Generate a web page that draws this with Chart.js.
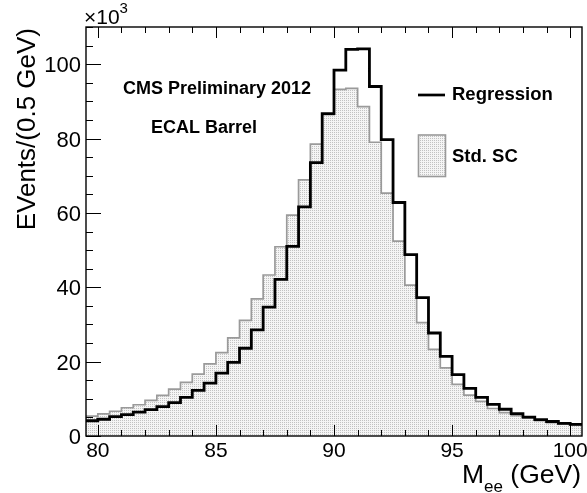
<!DOCTYPE html>
<html>
<head>
<meta charset="utf-8">
<title>Mee - ECAL Barrel</title>
<script src="https://cdn.jsdelivr.net/npm/chart.js@4.4.1/dist/chart.umd.min.js"></script>
<style>
  html, body { margin: 0; padding: 0; background: #fff; }
</style>
</head>
<body>
<canvas id="myChart" width="587" height="493"></canvas>
<script>
// ------------------------------DATA------------------------------
// low edge of each 0.5 GeV bin
var binLow = [79.5, 80, 80.5, 81, 81.5, 82, 82.5, 83, 83.5, 84, 84.5, 85, 85.5, 86,
  86.5, 87, 87.5, 88, 88.5, 89, 89.5, 90, 90.5, 91, 91.5, 92, 92.5, 93, 93.5, 94,
  94.5, 95, 95.5, 96, 96.5, 97, 97.5, 98, 98.5, 99, 99.5, 100];
var binWidth = 0.5;

// events / 0.5 GeV, in units of 10^3
var regression = [4.1, 4.5, 5.2, 5.75, 6.4, 7.1, 7.9, 8.95, 10.4, 12.25, 14.2, 16.9,
  19.8, 23.6, 28.55, 34.65, 42.1, 51.0, 61.6, 73.5, 86.7, 98.4, 104.0, 104.1, 94.0,
  79.7, 62.8, 48.8, 37.2, 27.7, 21.4, 16.5, 12.8, 10.4, 8.5, 7.2, 6.0, 5.1, 4.4, 3.9,
  3.4, 3.1];
var stdSC = [5.35, 5.95, 6.65, 7.6, 8.4, 9.6, 10.9, 12.6, 14.4, 16.65, 19.4, 22.4,
  26.4, 31.1, 36.9, 43.3, 50.9, 59.4, 68.9, 78.5, 86.4, 93.2, 93.5, 88.6, 79.0, 65.3,
  52.4, 40.6, 30.5, 23.3, 18.3, 13.9, 11.0, 9.3, 7.4, 6.3, 5.5, 4.8, 4.1, 3.6, 3.2,
  3.0];

var xTicks = [80, 85, 90, 95, 100];
var yTicks = [0, 20, 40, 60, 80, 100];

// ------------------------------HELPERS------------------------------
function histPoints(values) {
  var pts = [];
  for (var i = 0; i < values.length; i++) {
    pts.push({ x: binLow[i], y: values[i] });
  }
  // close the last bin at its upper edge
  pts.push({ x: binLow[binLow.length - 1] + binWidth, y: values[values.length - 1] });
  return pts;
}

function dotPattern() {
  var c = document.createElement('canvas');
  c.width = 2; c.height = 2;
  var g = c.getContext('2d');
  g.fillStyle = '#f5f5f5';
  g.fillRect(0, 0, 2, 2);
  g.fillStyle = '#c2c2c2';
  g.fillRect(0, 0, 1, 1);
  return g.createPattern(c, 'repeat');
}
var dots = dotPattern();

var FONT = '"Liberation Sans", Arial, Helvetica, sans-serif';

// ------------------------------FRAME + INSIDE TICKS------------------------------
var frameTicks = {
  id: 'frameTicks',
  afterDatasetsDraw: function (chart) {
    var ctx = chart.ctx, a = chart.chartArea;
    var xs = chart.scales.x, ys = chart.scales.y;
    ctx.save();
    ctx.strokeStyle = '#000';
    ctx.lineWidth = 1;
    ctx.beginPath();
    for (var v = 80; v <= 100; v++) {
      var px = Math.round(xs.getPixelForValue(v)) + 0.5;
      var len = xTicks.indexOf(v) >= 0 ? 11 : 6;
      ctx.moveTo(px, a.bottom); ctx.lineTo(px, a.bottom - len);
      ctx.moveTo(px, a.top); ctx.lineTo(px, a.top + len);
    }
    for (var w = 0; w <= 110; w += 5) {
      var py = Math.round(ys.getPixelForValue(w)) + 0.5;
      var l2 = yTicks.indexOf(w) >= 0 ? 15 : 7;
      ctx.moveTo(a.left, py); ctx.lineTo(a.left + l2, py);
    }
    ctx.stroke();
    ctx.lineWidth = 1.4;
    ctx.strokeRect(a.left, a.top, a.right - a.left, a.bottom - a.top);
    ctx.restore();
  }
};

// ------------------------------TEXTS + LEGEND------------------------------
var rootTexts = {
  id: 'rootTexts',
  afterDraw: function (chart) {
    var ctx = chart.ctx;
    ctx.save();
    ctx.fillStyle = '#000';
    ctx.textBaseline = 'alphabetic';

    // x10^3
    ctx.textAlign = 'left';
    ctx.font = '21px ' + FONT;
    ctx.fillText('\u00d710', 84, 24);
    var w10 = ctx.measureText('\u00d710').width;
    ctx.font = '15px ' + FONT;
    ctx.fillText('3', 84 + w10, 13);

    // y title
    ctx.save();
    ctx.translate(35, 28);
    ctx.rotate(-Math.PI / 2);
    ctx.textAlign = 'right';
    ctx.font = '26px ' + FONT;
    ctx.fillText('EVents/(0.5 GeV)', 0, 0);
    ctx.restore();

    // x title, right aligned at frame edge
    var big = '26.5px ' + FONT, small = '17px ' + FONT;
    ctx.font = big;
    var wM = ctx.measureText('M').width;
    var wRest = ctx.measureText(' (GeV)').width;
    ctx.font = small;
    var wSub = ctx.measureText('ee').width;
    var x0 = 581 - (wM + wSub + wRest);
    ctx.font = big;
    ctx.fillText('M', x0, 483);
    ctx.font = small;
    ctx.fillText('ee', x0 + wM, 492);
    ctx.font = big;
    ctx.fillText(' (GeV)', x0 + wM + wSub, 483);

    // labels
    ctx.font = 'bold 18px ' + FONT;
    ctx.fillText('CMS Preliminary 2012', 123, 94);
    ctx.fillText('ECAL Barrel', 151, 133);

    // legend
    ctx.font = 'bold 18.5px ' + FONT;
    ctx.strokeStyle = '#000';
    ctx.lineWidth = 2.7;
    ctx.beginPath();
    ctx.moveTo(418, 95); ctx.lineTo(445, 95);
    ctx.stroke();
    ctx.fillText('Regression', 452, 100);

    ctx.fillStyle = dots;
    ctx.fillRect(418.5, 135, 27, 41.5);
    ctx.strokeStyle = '#9a9a9a';
    ctx.lineWidth = 1.6;
    ctx.strokeRect(418.5, 135, 27, 41.5);
    ctx.fillStyle = '#000';
    ctx.fillText('Std. SC', 452, 162);
    ctx.restore();
  }
};

// ------------------------------CHART------------------------------
new Chart("myChart", {
  type: "line",
  data: {
    datasets: [{
      label: "Regression",
      data: histPoints(regression),
      stepped: true,
      borderColor: "#000",
      borderWidth: 2.8,
      pointRadius: 0,
      fill: false
    }, {
      label: "Std. SC",
      data: histPoints(stdSC),
      stepped: true,
      borderColor: "#9a9a9a",
      borderWidth: 1.7,
      backgroundColor: dots,
      pointRadius: 0,
      fill: "origin"
    }]
  },
  options: {
    responsive: false,
    animation: false,
    layout: { padding: { top: 27, right: 5, left: 0, bottom: 0 } },
    plugins: {
      legend: { display: false },
      tooltip: { enabled: false }
    },
    scales: {
      x: {
        type: "linear",
        min: 79.5,
        max: 100.5,
        grid: { display: false, drawTicks: false, tickLength: 0 },
        border: { display: false },
        ticks: { color: "#000", font: { family: FONT, size: 21 }, padding: 3, maxRotation: 0 },
        afterBuildTicks: function (scale) {
          scale.ticks = xTicks.map(function (v) { return { value: v }; });
        },
        afterFit: function (scale) {
          scale.height = 57;
          scale.paddingLeft = 0;
          scale.paddingRight = 0;
        }
      },
      y: {
        min: 0,
        max: 110,
        grid: { display: false, drawTicks: false, tickLength: 0 },
        border: { display: false },
        ticks: { color: "#000", font: { family: FONT, size: 22 }, padding: 5, labelOffset: 2 },
        afterBuildTicks: function (scale) {
          scale.ticks = yTicks.map(function (v) { return { value: v }; });
        },
        afterFit: function (scale) {
          scale.width = 86;
          scale.paddingTop = 0;
          scale.paddingBottom = 0;
        }
      }
    }
  },
  plugins: [frameTicks, rootTexts]
});
</script>
</body>
</html>
